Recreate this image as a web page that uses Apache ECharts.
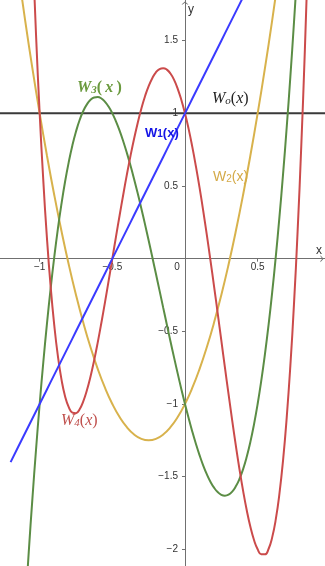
<!DOCTYPE html>
<html>
<head>
<meta charset="utf-8">
<script src="https://cdn.jsdelivr.net/npm/echarts@6/dist/echarts.min.js"></script>
<style>
  html, body { margin: 0; padding: 0; background: #ffffff; }
  #chart { width: 325px; height: 566px; }
</style>
</head>
<body>
<div id="chart"></div>
<script>
// Coarse abscissae for the constant, linear and quadratic curves
const xs = [-1.30,-1.25,-1.20,-1.15,-1.10,-1.05,-1.00,-0.95,-0.90,-0.85,-0.80,-0.75,-0.70,-0.65,-0.60,-0.55,
            -0.50,-0.45,-0.40,-0.35,-0.30,-0.25,-0.20,-0.15,-0.10,-0.05,0,0.05,0.10,0.15,0.20,0.25,
            0.30,0.35,0.40,0.45,0.50,0.55,0.60,0.65,0.70,0.75,0.80,0.85,0.90,0.95,1.00];

// Finer abscissae for the cubic and quartic curves
const xsFine = [-1.100,-1.075,-1.050,-1.025,-1.000,-0.975,-0.950,-0.925,-0.900,-0.875,-0.850,-0.825,-0.800,
                -0.775,-0.750,-0.725,-0.700,-0.675,-0.650,-0.625,-0.600,-0.575,-0.550,-0.525,-0.500,-0.475,
                -0.450,-0.425,-0.400,-0.375,-0.350,-0.325,-0.300,-0.275,-0.250,-0.225,-0.200,-0.175,-0.150,
                -0.125,-0.100,-0.075,-0.050,-0.025,0,0.025,0.050,0.075,0.100,0.125,0.150,0.175,0.200,0.225,
                0.250,0.275,0.300,0.325,0.350,0.375,0.400,0.425,0.450,0.475,0.500,0.525,0.550,0.575,0.600,
                0.625,0.650,0.675,0.700,0.725,0.750,0.775,0.800,0.825,0.850];

// Curve values (null = not drawn there)
const w0 = [1,1,1,1,1,1,1,1,1,1,1,1,1,1,1,1,1,1,1,1,1,1,1,1,1,1,1,1,1,1,1,1,1,1,1,1,1,1,1,1,1,1,1,1,1,1,1];
const w1 = [null,null,-1.4,-1.3,-1.2,-1.1,-1,-0.9,-0.8,-0.7,-0.6,-0.5,-0.4,-0.3,-0.2,-0.1,0,0.1,0.2,0.3,0.4,
            0.5,0.6,0.7,0.8,0.9,1,1.1,1.2,1.3,1.4,1.5,1.6,1.7,1.8,1.9,
            null,null,null,null,null,null,null,null,null,null,null];
const w2 = [null,null,null,1.99,1.64,1.31,1,0.71,0.44,0.19,-0.04,-0.25,-0.44,-0.61,-0.76,-0.89,-1,-1.09,
            -1.16,-1.21,-1.24,-1.25,-1.24,-1.21,-1.16,-1.09,-1,-0.89,-0.76,-0.61,-0.44,-0.25,-0.04,0.19,
            0.44,0.71,1,1.31,1.64,1.99,null,null,null,null,null,null,null];
const w3 = [-2.408,-2.016,-1.651,-1.313,-1,-0.713,-0.449,-0.210,0.008,0.204,0.377,0.531,0.664,
            0.779,0.875,0.954,1.016,1.062,1.093,1.109,1.112,1.102,1.079,1.045,1,0.945,
            0.881,0.808,0.728,0.641,0.547,0.448,0.344,0.236,0.125,0.011,-0.104,-0.220,-0.337,
            -0.453,-0.568,-0.681,-0.791,-0.898,-1,-1.097,-1.189,-1.274,-1.352,-1.422,-1.483,-1.535,-1.576,-1.606,
            -1.625,-1.631,-1.624,-1.603,-1.567,-1.516,-1.448,-1.363,-1.261,-1.140,-1,-0.840,-0.659,-0.457,-0.232,
            0.016,0.287,0.583,0.904,1.251,1.625,2.026,2.456,null,null];
const w4 = [null,null,2.157,1.539,1,0.537,0.143,-0.186,-0.454,-0.668,-0.831,-0.948,-1.022,
            -1.059,-1.063,-1.036,-0.982,-0.906,-0.811,-0.699,-0.574,-0.439,-0.297,-0.150,0,0.150,
            0.297,0.440,0.578,0.707,0.827,0.936,1.034,1.118,1.188,1.242,1.282,1.305,1.311,
            1.301,1.274,1.230,1.169,1.092,1,0.893,0.771,0.636,0.490,0.332,0.165,-0.010,-0.190,-0.375,
            -0.563,-0.750,-0.934,-1.114,-1.287,-1.449,-1.598,-1.731,-1.845,-1.936,-2,-2.034,-2.035,-1.998,-1.918,
            -1.793,-1.617,-1.386,-1.094,-0.738,-0.313,0.188,0.770,1.437,2.195];

// Tick and label positions on both axes
const xTickValues = [-1, -0.5, 0.5];
const xLabelValues = [-1, -0.5, 0, 0.5];
const yTickValues = [-2, -1.5, -1, -0.5, 0.5, 1, 1.5];

const colors = {
  w0: '#3a3a3a',
  w1: '#3b3bff',
  w2: '#d8b24c',
  w3: '#5b8d45',
  w4: '#cb4b4b',
  axis: '#707070',
  text: '#333333'
};

function pairs(xv, ys) {
  const out = [];
  xv.forEach((x, i) => { if (ys[i] !== null) out.push([x, ys[i]]); });
  return out;
}
const fmt = v => String(v).replace('-', '\u2212');

// Chevron used as the arrow head at the end of each axis
const chevron = 'path://M0,9 L10,0 L20,9 L17,9 L10,3.5 L3,9 Z';

function curve(name, xv, ys, color, width) {
  return {
    name: name, type: 'line', data: pairs(xv, ys), smooth: 0.5, showSymbol: false,
    clip: true, silent: true,
    lineStyle: { color: color, width: width }
  };
}

function serifRich(color, bold, size) {
  const w = bold ? 'bold' : 'normal';
  return {
    m: { fontFamily: 'Liberation Serif', fontStyle: 'italic', fontWeight: w, fontSize: size, lineHeight: size, verticalAlign: 'middle', fill: color },
    s: { fontFamily: 'Liberation Serif', fontStyle: 'italic', fontWeight: w, fontSize: 11, lineHeight: 11, padding: [11, 0, 0, 0], verticalAlign: 'bottom', fill: color },
    r: { fontFamily: 'Liberation Serif', fontStyle: 'normal', fontWeight: w, fontSize: size, lineHeight: size, verticalAlign: 'middle', fill: color }
  };
}
function sansRich(color, bold, size) {
  const w = bold ? 'bold' : 'normal';
  return {
    m: { fontFamily: 'Liberation Sans', fontWeight: w, fontSize: size, lineHeight: size, verticalAlign: 'middle', fill: color },
    s: { fontFamily: 'Liberation Sans', fontWeight: w, fontSize: 10, lineHeight: 10, padding: [10, 0, 0, 0], verticalAlign: 'bottom', fill: color },
    r: { fontFamily: 'Liberation Sans', fontWeight: w, fontSize: size, lineHeight: size, verticalAlign: 'middle', fill: color }
  };
}
function label(x, y, text, rich) {
  return {
    type: 'text', x: x, y: y, z: 100, silent: true,
    style: { text: text, rich: rich, align: 'left', verticalAlign: 'middle' }
  };
}

const chart = echarts.init(document.getElementById('chart'), null, { renderer: 'canvas' });

chart.setOption({
  animation: false,
  backgroundColor: '#ffffff',
  grid: { left: 0, right: 0, top: 0, bottom: 0, containLabel: false, outerBoundsMode: 'none' },
  xAxis: {
    type: 'value', min: -1.273, max: 0.9635, position: 'bottom',
    splitLine: { show: false },
    axisLine: {
      onZero: false,
      lineStyle: { color: colors.axis, width: 1 },
      symbol: ['none', chevron], symbolSize: [7, 5], symbolOffset: [0, -3]
    },
    axisTick: { show: true, customValues: xTickValues, length: 3, lineStyle: { color: colors.axis } },
    axisLabel: {
      customValues: xLabelValues, margin: 4, color: colors.text,
      fontFamily: 'Liberation Sans', fontSize: 10,
      formatter: v => v === 0 ? '{o|0}' : fmt(v),
      rich: { o: { fontFamily: 'Liberation Sans', fontSize: 10, color: colors.text, padding: [0, 16, 0, 0] } }
    }
  },
  yAxis: {
    type: 'value', min: -2.115, max: 1.78, position: 'left',
    splitLine: { show: false },
    axisLine: {
      onZero: false,
      lineStyle: { color: colors.axis, width: 1 },
      symbol: ['none', chevron], symbolSize: [7, 5], symbolOffset: [0, -3]
    },
    axisTick: { show: true, customValues: yTickValues, length: 3, lineStyle: { color: colors.axis } },
    axisLabel: {
      customValues: yTickValues, margin: 7, color: colors.text,
      fontFamily: 'Liberation Sans', fontSize: 10,
      formatter: v => fmt(v)
    }
  },
  series: [
    curve('W0', xs, w0, colors.w0, 2),
    curve('W2', xs, w2, colors.w2, 2),
    curve('W3', xsFine, w3, colors.w3, 2),
    curve('W4', xsFine, w4, colors.w4, 2),
    curve('W1', xs, w1, colors.w1, 2)
  ],
  graphic: [
    { type: 'text', x: 188, y: 10, silent: true,
      style: { text: 'y', fontFamily: 'Liberation Sans', fontSize: 12, fill: colors.text, align: 'left', verticalAlign: 'middle' } },
    { type: 'text', x: 316, y: 251, silent: true,
      style: { text: 'x', fontFamily: 'Liberation Sans', fontSize: 12, fill: colors.text, align: 'left', verticalAlign: 'middle' } },
    label(77, 88, '{m|W}{s|3}{r|(\u2009}{m|x}{r|\u2009)}', serifRich('#6b9a3e', true, 16)),
    label(212, 99, '{m|W}{s|o}{r|(}{m|x}{r|)}', serifRich('#222222', false, 16)),
    label(145, 133, '{m|W}{s|1}{r|(x)}', sansRich('#1414e6', true, 13)),
    label(213, 177, '{m|W}{s|2}{r|(x)}', sansRich('#d4aa48', false, 14)),
    label(61, 421, '{m|W}{s|4}{r|(}{m|x}{r|)}', serifRich('#c0504d', false, 16))
  ]
});

// Move both axes (line, ticks and labels) onto the origin of the plot
const origin = chart.convertToPixel({ gridIndex: 0 }, [0, 0]);
const plotHeight = chart.getHeight();
chart.setOption({
  xAxis: { offset: -(plotHeight - origin[1]) },
  yAxis: { offset: -origin[0] }
});
</script>
</body>
</html>
